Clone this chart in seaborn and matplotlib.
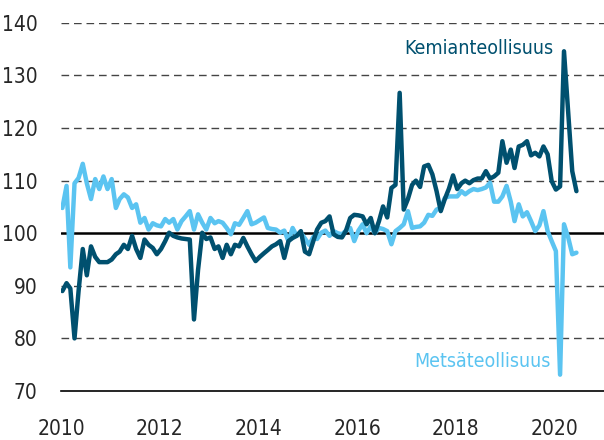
"""Chemical vs forest industry production index, 2010-2020."""
import matplotlib
matplotlib.use("Agg")
import matplotlib.dates as mdates
import matplotlib.pyplot as plt
import matplotlib.ticker as mticker
import numpy as np
import pandas as pd
import seaborn as sns

# monthly index values, Jan 2010 - Jun 2020
kemia = [
    89, 90.5, 89.5, 80, 89, 97, 92, 97.5, 95.5, 94.5, 94.5, 94.5,
    95, 96, 96.5, 97.8, 97, 99.5, 97, 95.3, 98.8, 97.8, 97.2, 96,
    97, 98.5, 100.1, 99.5, 99.2, 99, 98.9, 98.8, 83.6, 93, 100.1, 98.9,
    99.2, 97, 97.5, 95.3, 97.8, 96, 97.8, 97.5, 99.1, 97.5, 96, 94.7,
    95.5, 96.2, 96.8, 97.5, 97.9, 98.5, 95.3, 98.5, 99.1, 99.5, 100.4, 96.5,
    96, 98.5, 100.7, 102, 102.3, 103.2, 99.8, 99.3, 99.2, 100.5, 102.9, 103.5,
    103.4, 103.2, 101.7, 102.9, 100, 102.3, 105.1, 103, 108.6, 109.2, 126.7, 104.5,
    106.5, 109.2, 110, 108.8, 112.7, 113, 111.2, 108, 104.2, 106.5, 108.5, 111,
    108.4, 109.5, 110, 109.5, 110.1, 110.4, 110.4, 111.8, 110.4, 110.8, 111.5, 117.5,
    113.4, 115.9, 112.4, 116.5, 116.8, 117.5, 114.8, 115.3, 114.6, 116.5, 115, 109.9,
    108.3, 108.9, 134.6, 123, 111.8, 108,
]
metsa = [
    104.8, 109, 93.5, 109.5, 110.5, 113.2, 109.5, 106.5, 110.3, 108.4, 110.8, 108.4,
    110.3, 104.8, 106.5, 107.4, 106.8, 104.8, 105.5, 102, 102.9, 100.7, 101.9, 101.5,
    101.3, 102.7, 102, 102.7, 100.7, 102.3, 103.2, 104.2, 100.7, 103.6, 102, 100.7,
    102.9, 101.9, 102.3, 102, 101, 99.8, 101.9, 101.6, 102.9, 104.2, 101.7, 102,
    102.5, 103, 101, 100.8, 100.7, 100.1, 100.5, 98.5, 101, 99.5, 100.1, 99,
    97.8, 99.3, 98.9, 100.1, 100.5, 99.5, 100.4, 100, 99.8, 100.5, 101, 98.5,
    100.5, 101.7, 100, 101.3, 100, 101, 100.8, 100.4, 97.9, 100.4, 101, 101.7,
    104.2, 101, 101.2, 101.3, 102, 103.5, 103.3, 104.5, 104.8, 106.7, 107, 107,
    107, 108, 107.4, 108, 108.4, 108.2, 108.4, 108.7, 109.6, 106, 106, 107,
    109, 106, 102.3, 105.5, 103.2, 104, 102.3, 100.4, 101.5, 104.2, 100.4, 98.5,
    96.6, 73.1, 101.7, 99.2, 96, 96.3,
]
dates = pd.date_range("2010-01-01", periods=len(kemia), freq="MS") + pd.Timedelta(days=10)
y_ticks = [70, 80, 90, 100, 110, 120, 130, 140]

DARK = "#00506f"
LIGHT = "#5bc4f1"

df = pd.DataFrame({
    "date": np.concatenate([dates, dates]),
    "value": metsa + kemia,
    "series": ["Metsäteollisuus"] * len(metsa) + ["Kemianteollisuus"] * len(kemia),
})

sns.set_style("white")
plt.rcParams["font.family"] = ["DejaVu Sans"]
plt.rcParams["font.stretch"] = "condensed"
plt.rcParams["font.size"] = 15

fig = plt.figure(figsize=(6.04, 4.40), dpi=100)
ax = fig.add_axes([0.101, 0.1114, 0.899, 0.8366])

for y in y_ticks[1:]:
    if y == 100:
        ax.axhline(y, color="black", lw=1.8, zorder=1)
    else:
        ax.axhline(y, color="#444444", lw=1.0, ls=(0, (5.5, 3.5)), zorder=1)

sns.lineplot(
    data=df, x="date", y="value", hue="series",
    palette={"Metsäteollisuus": LIGHT, "Kemianteollisuus": DARK},
    linewidth=3.2, legend=False, ax=ax, zorder=3,
)

ax.set_xlim(pd.Timestamp("2010-01-01"), pd.Timestamp("2021-01-01"))
ax.set_ylim(70, 140)
ax.set_yticks(y_ticks)
ax.set_xlabel("")
ax.set_ylabel("")

ax.xaxis.set_major_locator(mdates.YearLocator(1))
ax.xaxis.set_major_formatter(
    mticker.FuncFormatter(lambda v, _: mdates.num2date(v).strftime("%Y")
                          if mdates.num2date(v).year % 2 == 0 else "")
)
ax.tick_params(axis="x", direction="in", length=8, width=1, color="black",
               pad=20, labelsize=15)
ax.tick_params(axis="y", length=0, pad=17, labelsize=15)

for side in ["top", "right", "left"]:
    ax.spines[side].set_visible(False)
ax.spines["bottom"].set_color("black")
ax.spines["bottom"].set_linewidth(1.2)

ax.text(pd.Timestamp("2019-12-25"), 135.2, "Kemianteollisuus", color=DARK,
        ha="right", va="center", fontsize=14)
ax.text(pd.Timestamp("2019-12-05"), 75.7, "Metsäteollisuus", color=LIGHT,
        ha="right", va="center", fontsize=14)

fig.savefig("out.png", dpi=100)
